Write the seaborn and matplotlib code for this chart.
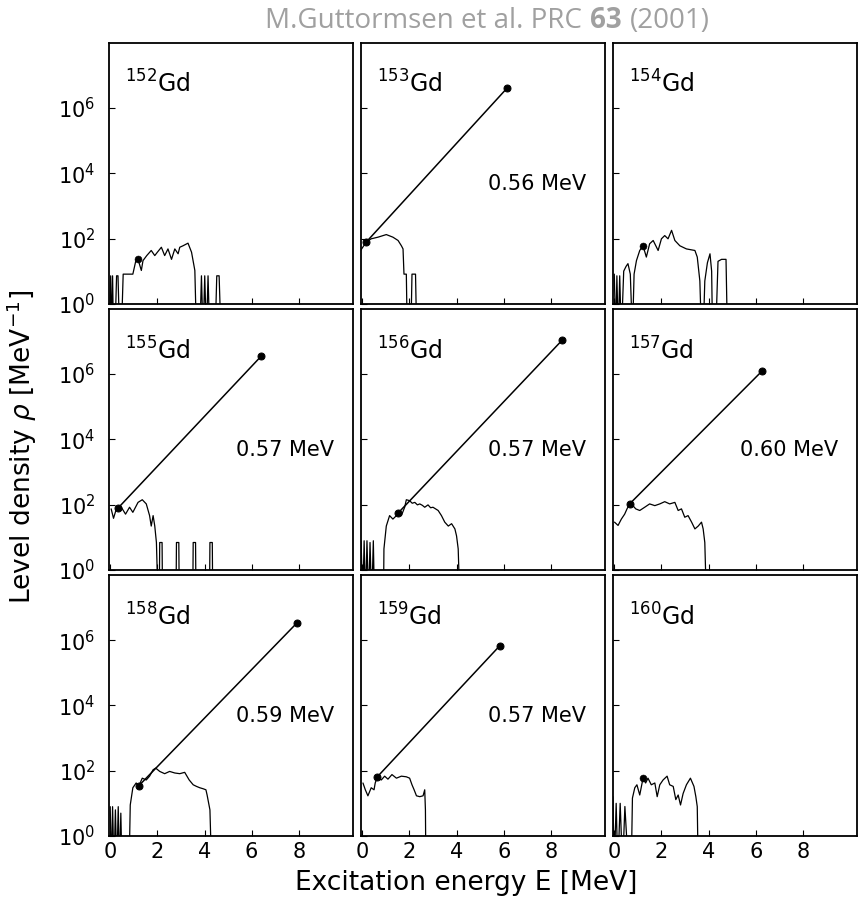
import numpy as np
import pandas as pd
import matplotlib
matplotlib.use("Agg")
import matplotlib.pyplot as plt
import seaborn as sns
from matplotlib.ticker import FixedLocator, NullLocator
from matplotlib.offsetbox import TextArea, HPacker, AnchoredOffsetbox

# ---------------- data ----------------
masses = [152, 153, 154, 155, 156, 157, 158, 159, 160]

E152 = [-0.05, 0.02, 0.06, 0.1, 0.14, 0.2, 0.27, 0.33, 0.4, 0.47, 0.55, 0.61, 0.96, 1.1, 1.18, 1.32, 1.39, 1.55,
        1.74, 1.89, 2.0, 2.17, 2.31, 2.45, 2.6, 2.74, 2.88, 2.95, 3.09, 3.3, 3.45, 3.59, 3.66, 3.8, 3.87, 3.94,
        4.01, 4.08, 4.15, 4.22, 4.45, 4.52, 4.62, 4.7]
rho152 = [0.1, 7.2, 0.1, 7.2, 0.1, 0.1, 7.2, 7.2, 0.1, 0.1, 8.1, 8.1, 8.1, 23, 23, 10.5, 21, 30, 43, 30, 38, 54,
          30, 48, 23, 48, 34, 54, 60, 72, 38, 10.5, 0.1, 0.1, 7.2, 0.1, 7.2, 0.1, 7.2, 0.1, 0.1, 7.2, 7.2, 0.1]

E153 = [-0.07, 0.17, 0.38, 0.67, 1.02, 1.3, 1.52, 1.66, 1.73, 1.77, 1.87, 1.91, 2.06, 2.11, 2.26, 2.31]
rho153 = [43, 78, 98, 110, 132, 110, 87, 60, 48, 8.1, 8.1, 0.1, 0.1, 8.1, 8.1, 0.1]

E154 = [0.0, 0.06, 0.11, 0.17, 0.23, 0.3, 0.4, 0.5, 0.58, 0.68, 0.77, 0.84, 0.94, 1.08, 1.22, 1.36, 1.5, 1.65,
        1.86, 2.0, 2.14, 2.28, 2.43, 2.57, 2.78, 3.06, 3.42, 3.52, 3.63, 3.7, 3.77, 3.84, 3.95, 4.06, 4.13, 4.17,
        4.3, 4.4, 4.55, 4.74, 4.8]
rho154 = [8.1, 0.1, 7.2, 0.1, 7.2, 0.1, 10, 14, 17, 8.1, 0.1, 8.1, 21, 43, 60, 27, 69, 87, 43, 98, 123, 98, 178,
          87, 60, 48, 43, 27, 5, 0.1, 0.1, 5, 18, 34, 10, 0.1, 0.1, 20, 23, 23, 0.1]

E155 = [0.04, 0.14, 0.26, 0.33, 0.47, 0.65, 0.82, 0.96, 1.18, 1.36, 1.53, 1.67, 1.74, 1.82, 1.89, 1.96, 2.03,
        2.08, 2.1, 2.2, 2.22, 2.79, 2.81, 2.91, 2.93, 3.5, 3.52, 3.62, 3.64, 4.21, 4.23, 4.33, 4.35]
rho155 = [74, 38, 74, 78, 83, 51, 83, 58, 117, 141, 105, 46, 22, 46, 22, 6.9, 0.1, 0.1, 6.9, 6.9, 0.1, 0.1,
          6.9, 6.9, 0.1, 0.1, 6.9, 6.9, 0.1, 0.1, 6.9, 6.9, 0.1]

E156 = [-0.05, 0.02, 0.08, 0.14, 0.2, 0.27, 0.33, 0.4, 0.47, 0.52, 0.9, 0.92, 1.02, 1.16, 1.3, 1.45, 1.52, 1.66,
        1.8, 1.87, 2.01, 2.12, 2.23, 2.34, 2.44, 2.55, 2.65, 2.79, 2.9, 3.0, 3.11, 3.22, 3.36, 3.5, 3.65, 3.79,
        3.93, 4.0, 4.07, 4.14]
rho156 = [7.8, 0.1, 7.8, 0.1, 7.8, 0.1, 6.9, 0.1, 7.8, 0.1, 0.1, 4.4, 22, 46, 36, 46, 55, 46, 83, 141, 132, 110,
          117, 98, 105, 95, 83, 98, 80, 83, 74, 66, 46, 29, 22, 26, 18, 11, 4.4, 0.1]

E157 = [0.01, 0.16, 0.3, 0.44, 0.54, 0.65, 0.79, 0.91, 1.08, 1.29, 1.5, 1.72, 1.93, 2.14, 2.35, 2.57, 2.71, 2.85,
        2.99, 3.13, 3.28, 3.42, 3.56, 3.7, 3.77, 3.84, 3.91]
rho157 = [29, 23, 36, 51, 74, 105, 93, 74, 66, 83, 105, 93, 105, 123, 105, 117, 66, 74, 41, 46, 29, 18, 22, 29,
          18, 6.9, 0.1]

E158 = [0.0, 0.05, 0.1, 0.16, 0.22, 0.28, 0.34, 0.4, 0.45, 0.5, 0.8, 0.85, 0.96, 1.1, 1.22, 1.36, 1.53, 1.67,
        1.82, 1.93, 2.1, 2.31, 2.52, 2.74, 2.95, 3.16, 3.35, 3.52, 3.66, 3.8, 3.94, 4.06, 4.11, 4.23, 4.3]
rho158 = [7.9, 0.1, 7.9, 0.1, 6.3, 0.1, 7.9, 0.1, 5, 0.1, 0.1, 8.9, 30, 42, 35, 59, 52, 68, 107, 120, 95, 81, 95,
          85, 81, 89, 52, 37, 33, 30, 28, 26, 18, 6.3, 0.1]

E159 = [0.03, 0.13, 0.24, 0.38, 0.5, 0.55, 0.64, 0.81, 0.95, 1.09, 1.26, 1.45, 1.66, 1.87, 2.01, 2.11, 2.2, 2.3,
        2.44, 2.58, 2.65, 2.68, 2.7]
rho159 = [42, 26, 17, 30, 26, 42, 65, 52, 68, 55, 76, 59, 68, 65, 59, 37, 26, 17, 16, 17, 26, 6.3, 0.1]

E160 = [-0.06, 0.0, 0.08, 0.15, 0.25, 0.35, 0.45, 0.6, 0.72, 0.77, 0.87, 0.96, 1.08, 1.22, 1.33, 1.43, 1.57,
        1.72, 1.82, 1.93, 2.07, 2.24, 2.35, 2.5, 2.61, 2.71, 2.81, 2.92, 3.06, 3.23, 3.38, 3.46, 3.52, 3.56]
rho160 = [16, 0.1, 10, 0.1, 10, 0.1, 8, 0.1, 0.1, 14.5, 30, 37, 18, 59, 42, 59, 37, 42, 16, 37, 52, 68, 37, 33,
          13, 18, 8.9, 20, 37, 59, 33, 16, 7.9, 0.1]

# constant-temperature lines: (lower anchor, neutron resonance point)
fitE = {153: [0.17, 6.15], 155: [0.33, 6.40], 156: [1.52, 8.47],
        157: [0.65, 6.28], 158: [1.22, 7.91], 159: [0.64, 5.84]}
fitRho = {153: [78, 4.1e6], 155: [78, 3.5e6], 156: [55, 1.07e7],
          157: [105, 1.26e6], 158: [35, 3.3e6], 159: [65, 6.8e5]}
temps = {153: "0.56 MeV", 155: "0.57 MeV", 156: "0.57 MeV",
         157: "0.60 MeV", 158: "0.59 MeV", 159: "0.57 MeV"}
# single anchor points (no fit)
dotE = {152: 1.18, 154: 1.22, 160: 1.22}
dotRho = {152: 23, 154: 60, 160: 59}

curvesE = [E152, E153, E154, E155, E156, E157, E158, E159, E160]
curvesRho = [rho152, rho153, rho154, rho155, rho156, rho157, rho158, rho159, rho160]

xticks = [0, 2, 4, 6, 8]
yticks = [1, 1e2, 1e4, 1e6]

# ---------------- plotting ----------------
sns.set_style("ticks")
plt.rcParams["font.family"] = ["DejaVu Sans"]
plt.rcParams["axes.linewidth"] = 1.3
plt.rcParams["text.color"] = "black"
plt.rcParams["axes.labelcolor"] = "black"
plt.rcParams["xtick.color"] = "black"
plt.rcParams["ytick.color"] = "black"

fig, axes = plt.subplots(3, 3, figsize=(8.64, 9.02), dpi=100, sharex=True, sharey=True)
fig.subplots_adjust(left=0.1262, right=0.992, top=0.9527, bottom=0.0732, wspace=0.033, hspace=0.019)

for i, (A, Es, Rs) in enumerate(zip(masses, curvesE, curvesRho)):
    ax = axes.flat[i]
    df = pd.DataFrame({"E": Es, "rho": Rs})
    sns.lineplot(data=df, x="E", y="rho", ax=ax, color="black", lw=0.9,
                 sort=False, estimator=None)
    if A in fitE:
        fd = pd.DataFrame({"E": fitE[A], "rho": fitRho[A]})
        sns.lineplot(data=fd, x="E", y="rho", ax=ax, color="black", lw=1.1,
                     sort=False, estimator=None, marker="o", markersize=5,
                     markeredgecolor="black")
        ax.text(5.33, 4800, temps[A], fontsize=15, va="center", ha="left", color="black")
    if A in dotE:
        sns.scatterplot(x=[dotE[A]], y=[dotRho[A]], ax=ax, color="black", s=25,
                        edgecolor="black", zorder=5)
    ax.text(0.065, 0.84, r"$^{%d}$Gd" % A, transform=ax.transAxes, fontsize=17,
            va="center", ha="left", color="black")
    ax.set_xlabel("")
    ax.set_ylabel("")

for ax in axes.flat:
    ax.set_yscale("log")
    ax.set_ylim(1, 1e8)
    ax.set_xlim(-0.05, 10.3)
    ax.yaxis.set_major_locator(FixedLocator(yticks))
    ax.yaxis.set_minor_locator(NullLocator())
    ax.xaxis.set_major_locator(FixedLocator(xticks))
    ax.tick_params(direction="in", length=4, width=0.8, labelsize=15,
                   colors="black", labelcolor="black")
    ax.tick_params(axis="y", pad=10)
    ax.tick_params(axis="x", pad=4)
    for s in ax.spines.values():
        s.set_color("black")

fig.text(0.025, 0.505, r"Level density $\rho$ [MeV$^{-1}$]", rotation=90,
         fontsize=19, va="center", ha="center", color="black")
fig.text(0.539, 0.021, "Excitation energy E [MeV]", fontsize=19, va="center",
         ha="center", color="black")

gray = "#a0a0a0"
tp = dict(color=gray, fontsize=20, family="Open Sans")
title = HPacker(children=[TextArea("M.Guttormsen et al. PRC", textprops=tp),
                          TextArea("63", textprops=dict(tp, fontweight="bold")),
                          TextArea("(2001)", textprops=tp)],
                align="baseline", pad=0, sep=6)
box = AnchoredOffsetbox(loc="upper center", child=title, pad=0, frameon=False,
                        bbox_to_anchor=(0.564, 0.993), bbox_transform=fig.transFigure,
                        borderpad=0)
fig.add_artist(box)

fig.savefig("out.png", dpi=100, facecolor="white")
